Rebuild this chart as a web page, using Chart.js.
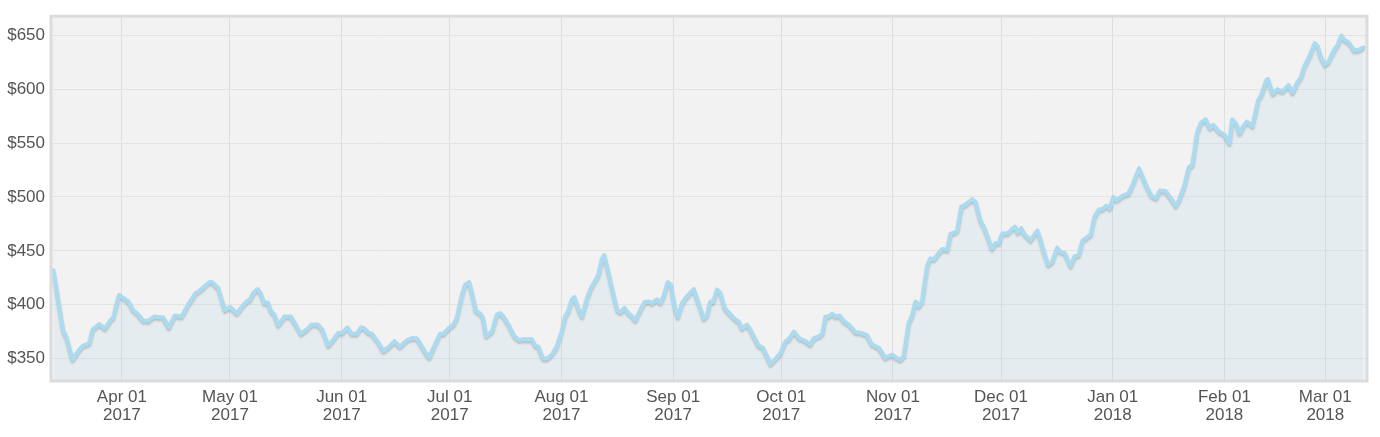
<!DOCTYPE html>
<html>
<head>
<meta charset="utf-8">
<script src="https://cdn.jsdelivr.net/npm/chart.js@4/dist/chart.umd.min.js"></script>
<style>
  html, body { margin: 0; padding: 0; background: #ffffff; }
  #wrap { width: 1380px; height: 437px; position: relative; }
</style>
</head>
<body>
<div id="wrap"><canvas id="c" width="1380" height="437"></canvas></div>
<script>
// Day index counted from 2017-03-13 (day 0)
const days = [
  0, 2.7, 3.6, 5.3, 6.9, 8.2, 9.9, 10.9, 12.7, 14.3, 15.7, 16.6, 18.2, 20.8, 22.1, 23.5, 24.9, 26.3, 27.9, 30.5,
  32.0, 33.7, 35.6, 37.4, 39.5, 40.2, 43.3, 44.1, 45.8, 47.6, 49.0, 50.9, 52.3, 53.6, 54.6, 55.5, 56.7, 57.6, 58.5, 59.5,
  60.4, 61.3, 62.4, 64.1, 65.9, 67.0, 68.7, 70.3, 71.7, 73.4, 74.6, 76.3, 77.7, 79.1, 80.2, 81.6, 82.8, 84.2, 85.4, 86.3,
  87.4, 88.4, 90.0, 91.6, 93.2, 94.6, 96.2, 98.1, 99.5, 100.9, 101.8, 103.2, 104.3, 105.9, 107.3, 108.3, 109.6, 111.0, 112.0, 113.4,
  114.3, 115.4, 116.3, 117.3, 118.4, 119.2, 120.1, 121.7, 123.1, 124.0, 124.9, 126.3, 127.9, 129.3, 130.5, 131.8, 132.8, 133.7, 134.6, 135.9,
  137.0, 138.4, 139.7, 141.1, 142.0, 142.9, 143.9, 144.6, 145.6, 146.7, 148.1, 149.2, 150.4, 151.3, 152.3, 152.9, 154.1, 155.1, 156.5, 157.4,
  158.5, 159.6, 160.4, 161.5, 162.9, 164.1, 165.2, 166.1, 167.5, 168.4, 169.4, 170.5, 171.4, 172.4, 173.3, 174.5, 175.9, 177.7, 178.9, 180.5,
  181.4, 182.3, 183.1, 184.2, 185.1, 186.3, 187.9, 189.3, 190.2, 191.1, 192.5, 193.4, 194.6, 195.7, 196.9, 198.1, 199.0, 200.4, 201.8, 203.2,
  204.1, 205.5, 206.9, 208.8, 210.0, 211.1, 212.4, 213.4, 214.3, 215.2, 216.1, 217.1, 218.2, 219.4, 220.8, 222.6, 224.0, 225.7, 227.2, 229.1,
  230.9, 232.8, 234.0, 235.1, 236.0, 237.4, 238.4, 239.3, 240.2, 241.1, 242.5, 243.4, 244.4, 245.7, 246.7, 248.1, 249.0, 250.2, 250.9, 252.0,
  253.0, 255.1, 256.0, 257.4, 258.3, 259.3, 260.5, 261.4, 262.4, 263.3, 264.8, 265.7, 266.9, 267.7, 268.6, 269.6, 271.2, 273.1, 274.0, 274.9,
  276.1, 277.2, 278.6, 279.5, 280.7, 282.3, 283.4, 284.6, 285.6, 287.0, 287.9, 289.0, 290.2, 291.1, 292.2, 293.2, 294.2, 295.1, 296.2, 297.3,
  298.3, 299.5, 300.2, 301.3, 302.3, 303.4, 304.8, 306.0, 307.1, 308.7, 310.1, 311.5, 312.4, 313.8, 315.2, 316.1, 317.5, 318.5, 319.8, 321.0,
  321.9, 323.6, 325.0, 326.4, 327.2, 328.3, 329.2, 330.1, 331.2, 332.8, 334.4, 335.4, 336.7, 337.1, 338.4, 339.8, 341.1, 342.8, 343.9, 345.3,
  346.2, 347.1, 348.8, 350.1, 350.9, 351.8, 352.9, 353.8, 354.8, 355.7, 356.4, 357.5, 358.3, 359.4, 361.1, 362.5, 363.6
];
const prices = [
  432, 376, 370, 349, 357, 362, 364, 377, 382, 378, 385, 388, 409, 403, 395, 391, 385, 385, 389, 388,
  379, 390, 389, 400, 411, 412, 421, 421, 415, 395, 398, 392, 398, 403, 405, 411, 414.5, 410, 401.5, 402,
  394, 391, 381, 389, 389, 383, 373, 377, 381.5, 381.5, 377, 362, 367.6, 374, 374, 379, 373, 373, 379, 378,
  374, 373, 366, 357, 361, 366, 361, 367, 369, 368.5, 364, 356, 351, 363, 373, 373, 378, 381.5, 388, 409,
  418.5, 421, 409, 394, 392, 388, 371, 375, 391, 392, 389, 381.5, 371, 367, 368, 367.6, 368, 362, 361, 350,
  350, 354, 361, 375, 389, 394, 405, 407, 397, 389, 406, 415.5, 422.5, 428, 443, 446, 429, 414, 395, 393,
  397, 392, 390, 385.5, 395, 402.5, 403, 401.5, 405, 401.5, 408, 421, 418.5, 398, 388.6, 401.5, 408, 414.5, 403, 387,
  390, 403, 402.5, 414, 411, 397, 391, 386, 384.6, 378, 381.5, 377, 369, 362, 360, 352, 345, 349.7, 355, 366,
  368, 375, 369, 366, 363, 369, 370.6, 373, 389, 389, 391.7, 389, 390, 384.6, 381.5, 374.4, 374, 372, 363, 360,
  350.6, 353.7, 350.6, 349, 352, 383, 390.7, 403, 398.4, 403, 435.5, 443, 442, 448, 451.6, 451, 466, 467, 469, 491,
  492.6, 498, 495, 477, 472, 463, 452, 457, 457, 466, 466, 469, 472.5, 467, 471, 465, 460, 469, 460, 449,
  437, 440, 453, 449, 448, 436, 445, 446, 459.5, 463, 465, 482, 488.6, 488.6, 492, 489.5, 500, 497, 500, 502,
  503, 511, 517, 526.6, 519, 510, 501, 499, 506, 505.6, 499, 492, 497, 509.5, 528, 529.6, 560.5, 569, 572, 564,
  567, 560.5, 558, 550, 572, 568, 559, 565, 570, 566, 590, 596, 609, 609.5, 596, 600, 598, 604, 597, 607,
  610.5, 620.6, 632, 643, 640, 630, 623, 625, 632, 638, 641, 650, 646, 644, 636, 637, 639
];

// X-axis ticks (day index of each month start) and their labels
const tickDays   = [19, 49, 80, 110, 141, 172, 202, 233, 263, 294, 325, 353];
const tickMonths = ['Apr 01', 'May 01', 'Jun 01', 'Jul 01', 'Aug 01', 'Sep 01', 'Oct 01', 'Nov 01', 'Dec 01', 'Jan 01', 'Feb 01', 'Mar 01'];
const tickYears  = ['2017', '2017', '2017', '2017', '2017', '2017', '2017', '2017', '2017', '2018', '2018', '2018'];

// Y-axis ticks
const yTicks = [350, 400, 450, 500, 550, 600, 650];

const points = days.map((d, i) => ({ x: d, y: prices[i] }));

const bgPlugin = {
  id: 'plotBg',
  beforeDraw(chart) {
    const { ctx, chartArea: a } = chart;
    ctx.save();
    ctx.fillStyle = '#f2f2f2';
    ctx.fillRect(a.left, a.top, a.right - a.left, a.bottom - a.top);
    ctx.restore();
  },
  beforeDatasetDraw(chart) {
    const ctx = chart.ctx;
    ctx.save();
    ctx.shadowColor = 'rgba(60,60,60,0.25)';
    ctx.shadowBlur = 2;
    ctx.shadowOffsetX = 0;
    ctx.shadowOffsetY = 2;
  },
  afterDatasetDraw(chart) {
    chart.ctx.restore();
  },
  afterDraw(chart) {
    const { ctx, chartArea: a } = chart;
    ctx.save();
    ctx.strokeStyle = '#dcdcdc';
    ctx.lineWidth = 3;
    ctx.strokeRect(a.left - 1, a.top - 1, a.right - a.left + 2, a.bottom - a.top + 2);
    ctx.restore();
  }
};

new Chart(document.getElementById('c'), {
  type: 'line',
  data: {
    datasets: [{
      data: points,
      borderColor: '#abdbf1',
      borderWidth: 4,
      backgroundColor: 'rgba(173,216,230,0.2)',
      fill: 'start',
      tension: 0,
      pointRadius: 0,
      pointHoverRadius: 0,
      borderJoinStyle: 'round',
      borderCapStyle: 'round'
    }]
  },
  options: {
    responsive: false,
    animation: false,
    events: [],
    layout: { padding: { left: 0, right: 14, top: 16, bottom: 0 } },
    plugins: { legend: { display: false }, tooltip: { enabled: false } },
    scales: {
      x: {
        type: 'linear',
        min: -0.4,
        max: 364.3,
        afterBuildTicks(scale) { scale.ticks = tickDays.map(v => ({ value: v })); },
        afterFit(scale) { scale.height = 57; },
        grid: { color: '#dedede', lineWidth: 1, drawTicks: false },
        border: { display: false },
        ticks: {
          autoSkip: false,
          maxRotation: 0,
          padding: 9,
          color: '#555',
          font: { family: 'Liberation Sans, Arial, sans-serif', size: 17, lineHeight: 1.02 },
          callback(value) {
            const i = tickDays.indexOf(value);
            return i >= 0 ? [tickMonths[i], tickYears[i]] : '';
          }
        }
      },
      y: {
        min: 330,
        max: 667,
        afterBuildTicks(scale) { scale.ticks = yTicks.map(v => ({ value: v })); },
        afterFit(scale) { scale.width = 52; },
        grid: { color: '#e3e3e3', lineWidth: 1, drawTicks: false },
        border: { display: false },
        ticks: {
          padding: 7,
          color: '#555',
          font: { family: 'Liberation Sans, Arial, sans-serif', size: 17 },
          callback(value) { return '$' + value; }
        }
      }
    }
  },
  plugins: [bgPlugin]
});
</script>
</body>
</html>
